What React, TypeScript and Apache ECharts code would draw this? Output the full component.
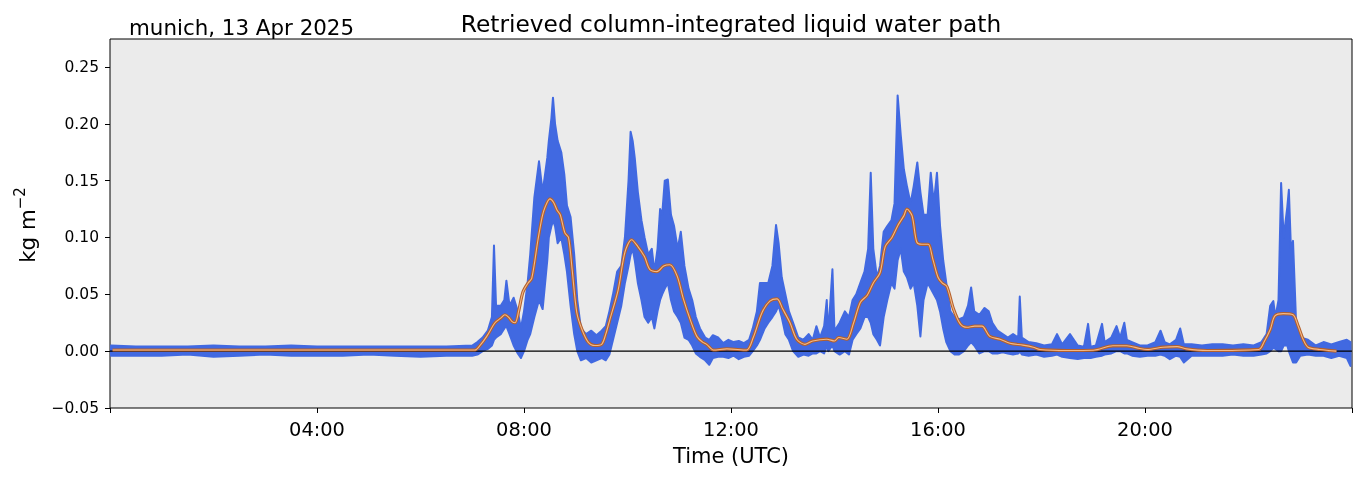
import { useEffect, useRef } from 'react';
import * as echarts from 'echarts';

const FONT = 'DejaVu Sans';

// Blue retrieval cloud: envelope (upper / lower) of the scattered retrievals, hours UTC
const blueTimes = [
  0.02, 0.5, 1.0, 1.5, 2.0, 2.5, 3.0, 3.5, 4.0, 4.5, 5.0, 5.5, 6.0, 6.5, 7.0,
  7.1, 7.2, 7.3, 7.38, 7.42, 7.46, 7.55, 7.62, 7.66, 7.72, 7.8, 7.88, 7.94, 8.0, 8.07,
  8.12, 8.2, 8.29, 8.36, 8.45, 8.48, 8.53, 8.56, 8.6, 8.65, 8.72, 8.78, 8.83, 8.9, 8.97,
  9.03, 9.1, 9.2, 9.3, 9.4, 9.5, 9.58, 9.65, 9.72, 9.8, 9.88, 9.95, 10.02, 10.06, 10.1,
  10.14, 10.2, 10.27, 10.33, 10.4, 10.47, 10.52, 10.58, 10.63, 10.67, 10.72, 10.78, 10.84, 10.9, 10.97,
  11.03, 11.1, 11.18, 11.25, 11.32, 11.4, 11.5, 11.58, 11.65, 11.75, 11.85, 11.95, 12.05, 12.15, 12.25,
  12.35, 12.42, 12.5, 12.56, 12.65, 12.72, 12.8, 12.87, 12.92, 12.98, 13.05, 13.12, 13.2, 13.3, 13.4,
  13.5, 13.58, 13.65, 13.72, 13.8, 13.85, 13.88, 13.96, 14.0, 14.1, 14.2, 14.28, 14.35, 14.42, 14.5,
  14.58, 14.65, 14.7, 14.75, 14.82, 14.88, 14.95, 15.02, 15.1, 15.16, 15.22, 15.28, 15.34, 15.4, 15.47,
  15.53, 15.6, 15.66, 15.72, 15.8, 15.86, 15.92, 15.98, 16.04, 16.1, 16.16, 16.24, 16.32, 16.4, 16.5,
  16.58, 16.64, 16.7, 16.8, 16.9, 16.98, 17.05, 17.15, 17.25, 17.35, 17.45, 17.55, 17.58, 17.62, 17.75,
  17.9, 18.05, 18.2, 18.3, 18.4, 18.55, 18.7, 18.82, 18.9, 18.95, 19.05, 19.17, 19.22, 19.35, 19.45,
  19.52, 19.6, 19.65, 19.75, 19.9, 20.05, 20.2, 20.3, 20.38, 20.48, 20.6, 20.68, 20.75, 20.9, 21.1,
  21.3, 21.5, 21.7, 21.9, 22.1, 22.25, 22.35, 22.42, 22.48, 22.52, 22.58, 22.63, 22.68, 22.75, 22.78,
  22.82, 22.86, 22.92, 23.0, 23.15, 23.3, 23.45, 23.6, 23.75, 23.9, 23.97,
];
const blueUpper = [
  0.005, 0.004, 0.004, 0.004, 0.005, 0.004, 0.004, 0.005, 0.004, 0.004, 0.004, 0.004, 0.004, 0.004, 0.005,
  0.008, 0.012, 0.018, 0.030, 0.093, 0.040, 0.040, 0.045, 0.062, 0.040, 0.047, 0.035, 0.020, 0.035, 0.060,
  0.085, 0.135, 0.167, 0.140, 0.170, 0.185, 0.205, 0.223, 0.200, 0.185, 0.175, 0.155, 0.128, 0.118, 0.085,
  0.045, 0.020, 0.015, 0.018, 0.014, 0.018, 0.022, 0.035, 0.050, 0.070, 0.075, 0.100, 0.150, 0.193, 0.185,
  0.170, 0.140, 0.115, 0.100, 0.085, 0.090, 0.070, 0.090, 0.125, 0.120, 0.150, 0.151, 0.120, 0.110, 0.090,
  0.105, 0.075, 0.055, 0.045, 0.030, 0.020, 0.012, 0.010, 0.014, 0.012, 0.007, 0.010, 0.008, 0.009, 0.007,
  0.010, 0.020, 0.035, 0.060, 0.060, 0.060, 0.075, 0.111, 0.095, 0.065, 0.050, 0.035, 0.025, 0.012, 0.010,
  0.015, 0.010, 0.022, 0.012, 0.022, 0.045, 0.015, 0.072, 0.018, 0.025, 0.035, 0.030, 0.045, 0.050, 0.060,
  0.070, 0.090, 0.157, 0.090, 0.065, 0.075, 0.105, 0.110, 0.115, 0.130, 0.225, 0.190, 0.160, 0.145, 0.130,
  0.145, 0.166, 0.140, 0.120, 0.120, 0.157, 0.130, 0.157, 0.110, 0.080, 0.060, 0.035, 0.030, 0.028, 0.030,
  0.040, 0.056, 0.035, 0.032, 0.038, 0.035, 0.025, 0.018, 0.015, 0.012, 0.015, 0.012, 0.048, 0.012, 0.008,
  0.007, 0.005, 0.006, 0.015, 0.006, 0.015, 0.005, 0.004, 0.024, 0.004, 0.005, 0.024, 0.008, 0.012, 0.022,
  0.012, 0.025, 0.010, 0.008, 0.005, 0.005, 0.008, 0.018, 0.008, 0.006, 0.010, 0.020, 0.006, 0.006, 0.005,
  0.006, 0.006, 0.005, 0.006, 0.005, 0.008, 0.015, 0.040, 0.044, 0.030, 0.045, 0.148, 0.100, 0.127, 0.142,
  0.090, 0.097, 0.025, 0.012, 0.010, 0.005, 0.008, 0.006, 0.008, 0.010, 0.008,
];
const blueLower = [
  -0.004, -0.004, -0.004, -0.003, -0.005, -0.004, -0.003, -0.004, -0.004, -0.004, -0.003, -0.004, -0.005, -0.004, -0.004,
  -0.003, 0.000, 0.002, 0.005, 0.010, 0.012, 0.015, 0.020, 0.022, 0.015, 0.005, -0.002, -0.006, 0.000, 0.010,
  0.015, 0.030, 0.045, 0.037, 0.080, 0.100, 0.110, 0.115, 0.110, 0.095, 0.100, 0.085, 0.070, 0.040, 0.015,
  0.000, -0.008, -0.006, -0.010, -0.008, -0.006, -0.008, -0.003, 0.010, 0.025, 0.040, 0.060, 0.075, 0.085, 0.090,
  0.080, 0.060, 0.045, 0.030, 0.025, 0.030, 0.020, 0.035, 0.045, 0.050, 0.055, 0.060, 0.045, 0.035, 0.030,
  0.025, 0.012, 0.010, 0.005, -0.002, -0.005, -0.008, -0.012, -0.006, -0.005, -0.005, -0.006, -0.004, -0.007, -0.005,
  -0.004, 0.000, 0.005, 0.010, 0.020, 0.025, 0.030, 0.035, 0.040, 0.030, 0.015, 0.010, 0.000, -0.005, -0.003,
  -0.004, -0.002, -0.002, 0.000, -0.002, 0.005, 0.000, 0.005, 0.000, -0.003, 0.000, -0.003, 0.010, 0.015, 0.020,
  0.030, 0.030, 0.025, 0.015, 0.010, 0.005, 0.030, 0.045, 0.060, 0.055, 0.080, 0.090, 0.070, 0.065, 0.055,
  0.060, 0.040, 0.013, 0.045, 0.060, 0.055, 0.050, 0.045, 0.035, 0.020, 0.008, 0.000, -0.003, -0.003, 0.000,
  0.005, 0.008, 0.005, -0.002, 0.000, 0.000, -0.002, -0.002, -0.001, -0.002, -0.003, -0.002, 0.000, -0.003, -0.004,
  -0.003, -0.005, -0.004, -0.003, -0.005, -0.006, -0.007, -0.006, -0.006, -0.006, -0.005, -0.004, -0.003, -0.002, 0.000,
  0.000, -0.002, -0.002, -0.004, -0.005, -0.004, -0.004, -0.003, -0.004, -0.007, -0.004, -0.005, -0.010, -0.004, -0.004,
  -0.004, -0.004, -0.003, -0.004, -0.004, -0.003, -0.002, 0.000, 0.003, 0.002, 0.000, 0.000, 0.005, 0.005, 0.000,
  -0.005, -0.010, -0.010, -0.004, -0.003, -0.004, -0.004, -0.006, -0.004, -0.006, -0.013,
];

// Smoothed (running mean) liquid water path
const smoothTimes = [
  0.05, 1, 2, 3, 4, 5, 6, 7.05, 7.15, 7.28, 7.44, 7.55, 7.63, 7.7, 7.77, 7.83, 7.9, 7.98, 8.08, 8.15,
  8.27, 8.35, 8.41, 8.5, 8.57, 8.64, 8.7, 8.79, 8.86, 8.93, 9.02, 9.12, 9.24, 9.37, 9.5, 9.58, 9.66, 9.82, 9.95, 10.08,
  10.2, 10.33, 10.43, 10.57, 10.7, 10.82, 10.96, 11.08, 11.21, 11.34, 11.45, 11.53, 11.66, 11.92, 12.3, 12.43, 12.6, 12.75, 12.89, 13.0,
  13.14, 13.27, 13.43, 13.58, 13.85, 14.0, 14.08, 14.24, 14.37, 14.5, 14.63, 14.75, 14.88, 14.98, 15.11, 15.23, 15.34, 15.4, 15.5, 15.59,
  15.69, 15.81, 15.9, 16.0, 16.08, 16.17, 16.3, 16.43, 16.56, 16.71, 16.85, 17.0, 17.2, 17.39, 17.64, 17.84, 17.97, 18.5, 19.0, 19.38,
  19.65, 19.9, 20.04, 20.35, 20.62, 20.8, 21.2, 22.2, 22.3, 22.42, 22.51, 22.67, 22.86, 22.96, 23.05, 23.15, 23.38, 23.7,
];
const smoothValues = [
  0.001, 0.001, 0.001, 0.001, 0.001, 0.001, 0.001, 0.001, 0.005, 0.013, 0.025, 0.029, 0.032, 0.030, 0.026, 0.025, 0.036, 0.052, 0.060, 0.064,
  0.098, 0.118, 0.127, 0.134, 0.131, 0.124, 0.120, 0.104, 0.100, 0.072, 0.034, 0.019, 0.008, 0.005, 0.006, 0.015, 0.028, 0.054, 0.087, 0.098,
  0.092, 0.083, 0.072, 0.070, 0.075, 0.076, 0.066, 0.046, 0.028, 0.013, 0.008, 0.006, 0.001, 0.002, 0.001, 0.012, 0.034, 0.044, 0.046, 0.037,
  0.025, 0.0105, 0.006, 0.009, 0.0105, 0.009, 0.012, 0.0105, 0.025, 0.043, 0.049, 0.060, 0.069, 0.092, 0.100, 0.111, 0.119, 0.125, 0.119, 0.096,
  0.094, 0.094, 0.081, 0.065, 0.060, 0.057, 0.037, 0.024, 0.021, 0.022, 0.022, 0.013, 0.0105, 0.007, 0.0053, 0.0035, 0.0015, 0.0006, 0.0008, 0.0047,
  0.0047, 0.0023, 0.0015, 0.0035, 0.004, 0.002, 0.0006, 0.0015, 0.008, 0.019, 0.031, 0.033, 0.032, 0.022, 0.011, 0.0035, 0.0015, 0.0,
];

const yTickValues = [-0.05, 0, 0.05, 0.1, 0.15, 0.2, 0.25];
const xTickHours = [0, 4, 8, 12, 16, 20, 24];
const xLabelHours = [4, 8, 12, 16, 20];

const pad2 = (n: number) => (n < 10 ? '0' + n : '' + n);

export default function App() {
  const ref = useRef<HTMLDivElement>(null);

  useEffect(() => {
    const chart = echarts.init(ref.current!, null, { renderer: 'svg' });
    const bandData = blueTimes.map((t, i) => [t, blueUpper[i], blueLower[i]]);
    const smoothData = smoothTimes.map((t, i) => [t, smoothValues[i]]);

    chart.setOption({
      animation: false,
      grid: {
        left: 110, right: 11, top: 39, bottom: 70,
        show: true, backgroundColor: '#ebebeb', borderColor: '#000', borderWidth: 1,
      },
      xAxis: {
        type: 'value', min: 0, max: 24, interval: 4,
        name: 'Time (UTC)', nameLocation: 'middle', nameGap: 37,
        nameTextStyle: { fontFamily: FONT, fontSize: 21, color: '#000' },
        axisLine: { show: false, onZero: false },
        splitLine: { show: false },
        axisTick: { show: true, length: 5, lineStyle: { color: '#000', width: 1 }, customValues: xTickHours },
        axisLabel: {
          customValues: xLabelHours,
          formatter: (v: number) => pad2(Math.round(v)) + ':00',
          fontFamily: FONT, fontSize: 19.4, color: '#000', margin: 12,
        },
      },
      yAxis: {
        type: 'value', min: -0.05, max: 0.2746, interval: 0.05,
        axisLine: { show: false, onZero: false },
        splitLine: { show: false },
        axisTick: { show: true, length: 5, lineStyle: { color: '#000', width: 1 }, customValues: yTickValues },
        axisLabel: {
          customValues: yTickValues,
          formatter: (v: number) => v.toFixed(2).replace('-', '\u2212'),
          fontFamily: FONT, fontSize: 15.5, color: '#000', margin: 11,
        },
      },
      graphic: [
        {
          type: 'text', x: 731, y: 23,
          style: {
            text: 'Retrieved column-integrated liquid water path',
            fontFamily: FONT, fontSize: 23.3, fill: '#000',
            textAlign: 'center', textVerticalAlign: 'middle',
          },
        },
        {
          type: 'text', x: 129, y: 27,
          style: {
            text: 'munich, 13 Apr 2025',
            fontFamily: FONT, fontSize: 21.4, fill: '#000',
            textAlign: 'left', textVerticalAlign: 'middle',
          },
        },
        {
          type: 'text', x: 27, y: 225, rotation: Math.PI / 2,
          style: {
            text: 'kg m{sup|\u22122}',
            rich: { sup: { fontFamily: FONT, fontSize: 15, fill: '#000', padding: [0, 0, 14, 0] } },
            fontFamily: FONT, fontSize: 21.4, fill: '#000',
            textAlign: 'center', textVerticalAlign: 'middle',
          },
        },
      ],
      series: [
        {
          type: 'custom',
          data: bandData,
          encode: { x: 0, y: [1, 2] },
          renderItem: (params: any, api: any) => {
            if (params.dataIndex !== 0) return null;
            const pts: number[][] = [];
            for (let i = 0; i < bandData.length; i++) pts.push(api.coord([bandData[i][0], bandData[i][1]]));
            for (let i = bandData.length - 1; i >= 0; i--) pts.push(api.coord([bandData[i][0], bandData[i][2]]));
            return {
              type: 'polygon',
              shape: { points: pts },
              style: { fill: '#4169e1', stroke: '#4169e1', lineWidth: 2, lineJoin: 'round' },
            };
          },
          clip: true,
          z: 2,
        },
        {
          type: 'line',
          data: [[0, 0], [24, 0]],
          symbol: 'none',
          lineStyle: { color: '#000', width: 1.2 },
          z: 3,
        },
        {
          type: 'line',
          data: smoothData,
          symbol: 'none',
          smooth: 0.3,
          lineStyle: { color: '#b5602b', width: 3.2 },
          z: 4,
        },
        {
          type: 'line',
          data: smoothData,
          symbol: 'none',
          smooth: 0.3,
          lineStyle: { color: '#f2b988', width: 1.1 },
          z: 5,
        },
      ],
    });

    return () => chart.dispose();
  }, []);

  return <div ref={ref} style={{ position: 'fixed', left: 0, top: 0, width: 1363, height: 478 }} />;
}
